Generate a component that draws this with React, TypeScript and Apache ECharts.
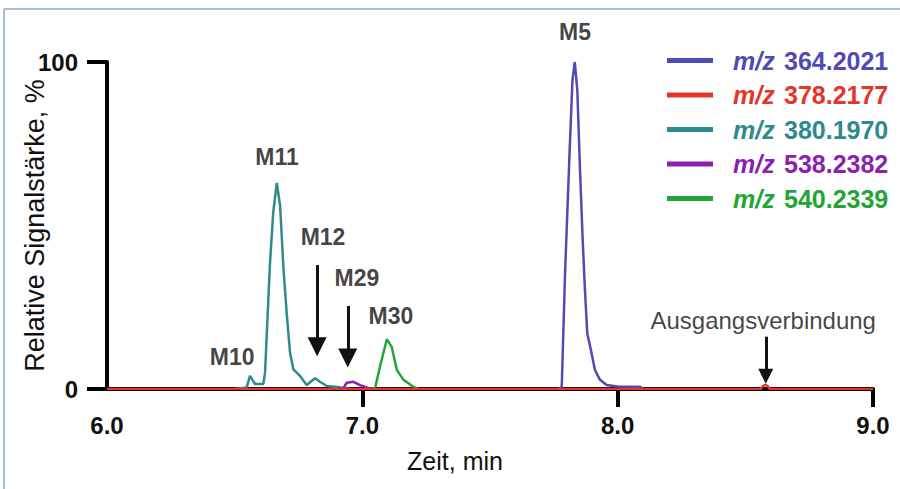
import React, { useEffect, useRef } from "react";
import * as echarts from "echarts";

// ---- data ----
const seriesNames = ["m/z 364.2021", "m/z 378.2177", "m/z 380.1970", "m/z 538.2382", "m/z 540.2339"];
const seriesColors = ["#4F4BB4", "#E5352A", "#2E8A8D", "#8A1FB2", "#22A535"];

// m/z 364.2021 (M5)
const t364 = [7.77, 7.781, 7.794, 7.811, 7.823, 7.832, 7.842, 7.853, 7.863, 7.872, 7.881, 7.895, 7.911, 7.931, 7.957, 8.0, 8.088, 8.1];
const v364 = [0, 0.7, 35.5, 71, 94.5, 100, 91.4, 66, 45.6, 30, 17, 12, 5.8, 2.8, 1.2, 0.8, 0.7, 0];
// m/z 378.2177 (Ausgangsverbindung)
const t378 = [6.0, 8.56, 8.569, 8.578, 8.587, 8.596, 9.0];
const v378 = [0, 0, 0.9, 1.3, 0.9, 0, 0];
// m/z 380.1970 (M10, M11, M12)
const t380 = [6.5, 6.547, 6.56, 6.58, 6.595, 6.612, 6.619, 6.638, 6.651, 6.665, 6.678, 6.691, 6.704, 6.717, 6.73, 6.756, 6.782, 6.815, 6.834, 6.861, 6.913, 6.95];
const v380 = [0, 0.5, 4, 1.5, 1.5, 1.5, 5, 38, 54, 63, 56, 37, 23, 11, 6, 4, 1.2, 3.3, 2.2, 0.9, 0.5, 0];
// m/z 538.2382 (M29)
const t538 = [6.9, 6.926, 6.939, 6.965, 6.991, 7.017, 7.03];
const v538 = [0, 0.3, 1.9, 2.2, 1.2, 0.5, 0];
// m/z 540.2339 (M30)
const t540 = [7.03, 7.05, 7.069, 7.096, 7.115, 7.135, 7.161, 7.2, 7.22];
const v540 = [0, 0.3, 6.8, 15.2, 12.9, 5.8, 2.8, 0.7, 0];

const xTicks = [6, 7, 8, 9];
const yTicks = [0, 100];

// peak annotations: label, time, signal
const annoNames = ["M5", "M11", "M12", "M29", "M30", "M10", "Ausgangsverbindung"];
const annoX = [7.833, 6.666, 6.846, 6.979, 7.112, 6.49, 8.57];
const annoY = [109.2, 71, 46.5, 34, 22.3, 9.8, 20.8];

// arrows: time, start signal, end signal
const arrowX = [6.823, 6.943, 8.58];
const arrowTop = [37.9, 25.4, 16.0];
const arrowEnd = [12.9, 9.5, 3.9];

const times = [t364, t378, t380, t538, t540];
const values = [v364, v378, v380, v538, v540];

export default function App() {
  const ref = useRef<HTMLDivElement>(null);
  useEffect(() => {
    document.body.style.margin = "0";
    const chart = echarts.init(ref.current!, null, { renderer: "svg" });
    const font = "'Liberation Sans', Arial, sans-serif";
    const lineSeries = seriesNames.map((name, i) => ({
      name,
      type: "line",
      data: times[i].map((t, j) => [t, values[i][j]]),
      showSymbol: false,
      symbol: "none",
      color: seriesColors[i],
      lineStyle: { width: 2.5, color: seriesColors[i] },
      z: i === 1 ? 5 : 3,
      silent: true,
    }));
    chart.setOption({
      animation: false,
      backgroundColor: "#ffffff",
      textStyle: { fontFamily: font },
      grid: { left: 107, right: 27, top: 62, bottom: 100, outerBoundsMode: "none" },
      graphic: [
        { type: "line", shape: { x1: 4, y1: 9, x2: 900, y2: 9 }, style: { stroke: "#A9BFD6", lineWidth: 2 } },
        { type: "line", shape: { x1: 4, y1: 9, x2: 4, y2: 489 }, style: { stroke: "#A9BFD6", lineWidth: 2 } },
      ],
      legend: {
        orient: "vertical",
        left: 662,
        top: 43,
        icon: "rect",
        itemWidth: 46,
        itemHeight: 5,
        itemGap: 9.5,
        selectedMode: false,
        data: seriesNames.map((n, i) => ({
          name: n,
          textStyle: {
            padding: [0, 0, 0, 15],
            rich: {
              i: { color: seriesColors[i], fontStyle: "italic", fontWeight: "bold", fontSize: 25, lineHeight: 24, fontFamily: font },
              n: { color: seriesColors[i], fontWeight: "bold", fontSize: 25, lineHeight: 24, fontFamily: font, padding: [0, 0, 0, 6] },
            },
          },
        })),
        formatter: (n: string) => `{i|m/z} {n|${n.slice(4)}}`,
      },
      xAxis: {
        type: "value",
        min: 6,
        max: 9,
        interval: 1,
        name: "Zeit, min",
        nameLocation: "middle",
        nameGap: 59,
        nameMoveOverlap: false,
        nameTextStyle: { fontSize: 25, color: "#111", fontFamily: font, padding: [0, 70, 0, 0] },
        axisLine: { show: true, lineStyle: { color: "#000", width: 4 } },
        axisTick: { show: true, length: 18, customValues: xTicks.slice(1), lineStyle: { color: "#000", width: 4 } },
        axisLabel: {
          customValues: xTicks,
          margin: 24,
          fontSize: 24,
          fontWeight: "bold",
          color: "#111",
          fontFamily: font,
          formatter: (v: number) => v.toFixed(1),
        },
        splitLine: { show: false },
      },
      yAxis: {
        type: "value",
        min: 0,
        max: 100,
        interval: 100,
        name: "Relative Signalstärke, %",
        nameLocation: "middle",
        nameGap: 59,
        nameMoveOverlap: false,
        nameTextStyle: { fontSize: 27, color: "#111", fontFamily: font },
        axisLine: { show: true, lineStyle: { color: "#000", width: 4 } },
        axisTick: { show: true, length: 20, customValues: yTicks, lineStyle: { color: "#000", width: 4 } },
        axisLabel: {
          customValues: yTicks,
          margin: 29,
          fontSize: 24,
          fontWeight: "bold",
          color: "#111",
          fontFamily: font,
        },
        splitLine: { show: false },
      },
      series: [
        ...lineSeries,
        {
          name: "annotations",
          type: "scatter",
          silent: true,
          clip: false,
          symbolSize: 1,
          itemStyle: { color: "rgba(0,0,0,0)" },
          z: 6,
          data: annoNames.map((n, i) => ({
            name: n,
            value: [annoX[i], annoY[i]],
            label: n.length > 3 ? { fontWeight: "normal", fontSize: 24 } : undefined,
          })),
          label: {
            show: true,
            position: "inside",
            formatter: "{b}",
            fontSize: 23,
            fontWeight: "bold",
            color: "#111",
            fontFamily: font,
          },
          markLine: {
            silent: true,
            animation: false,
            symbol: ["none", "triangle"],
            symbolSize: 18,
            label: { show: false },
            lineStyle: { color: "#111", width: 3, type: "solid" },
            emphasis: { disabled: true },
            data: arrowX.map((x, i) => [
              { coord: [x, arrowTop[i]] },
              { coord: [x, arrowEnd[i]], symbolSize: i === 2 ? 15 : 19 },
            ]),
          },
        },
      ],
    });
    return () => chart.dispose();
  }, []);
  return <div ref={ref} style={{ width: 900, height: 489 }} />;
}
